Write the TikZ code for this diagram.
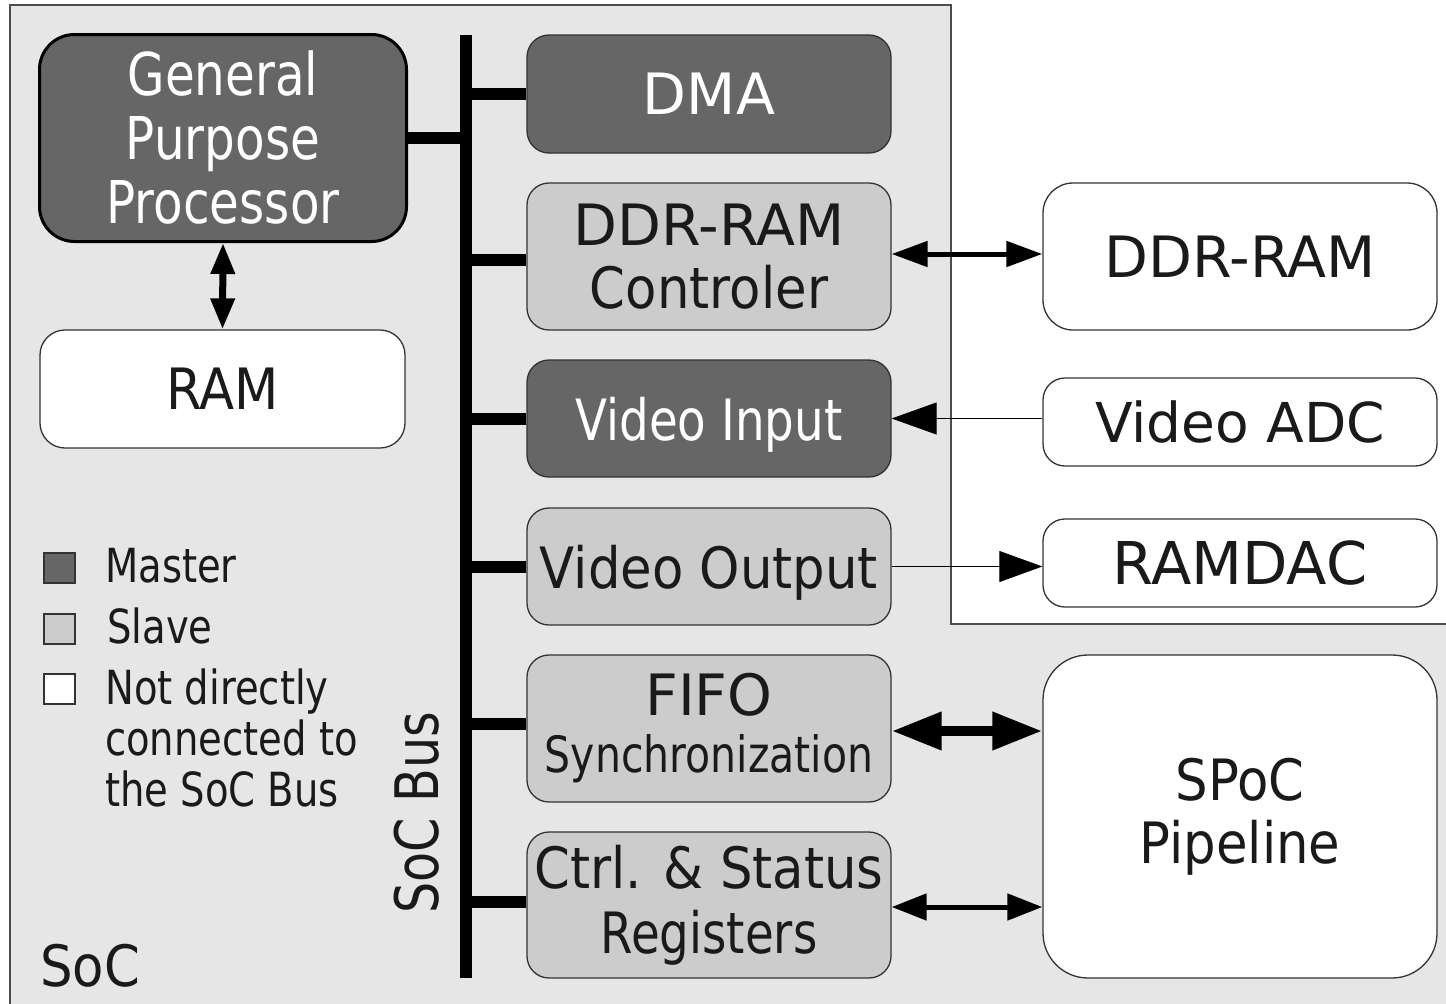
\documentclass[tikz,border=0pt]{standalone}
\usepackage{fontspec}
\setmainfont{DejaVu Sans}
\newfontfamily\fN{DejaVu Sans}
\newfontfamily\fM{DejaVu Sans}[FakeStretch=0.9]
\newfontfamily\fC{DejaVu Sans}[FakeStretch=0.82]
\usetikzlibrary{arrows.meta}
\definecolor{socgray}{HTML}{E6E6E6}
\definecolor{master}{HTML}{666666}
\definecolor{slave}{HTML}{CCCCCC}
\definecolor{txt}{HTML}{1A1A1A}
\definecolor{edge}{HTML}{333333}
\definecolor{socedge}{HTML}{4D4D4D}
\tikzset{
  box/.style={draw=edge, line width=1.3pt, rounded corners=22pt, inner sep=0pt, align=center, text=txt},
  mbox/.style={box, fill=master, text=white},
  sbox/.style={box, fill=slave},
  wbox/.style={box, fill=white},
  busline/.style={line width=12pt, line cap=butt},
  legsq/.style={draw=edge, line width=1.3pt, minimum width=31pt, minimum height=30pt, inner sep=0pt},
  legtext/.style={inner sep=0pt, text=txt, font={\fC\fontsize{47}{51}\selectfont}},
  bigfont/.style={font={\fontsize{57}{63}\selectfont}},
}
\begin{document}
\begin{tikzpicture}[x=1pt,y=-1pt]
\useasboundingbox (0,0) rectangle (1446,1004);
\fill[white] (0,0) rectangle (1446,1004);
\begin{scope}
\clip (0,0) rectangle (1446,1004);
\draw[draw=socedge, line width=1.3pt, fill=socgray] (10,1030) -- (10,5) -- (951,5) -- (951,624) -- (1470,624) -- (1470,1030) -- cycle;
\end{scope}

% left column
\node[mbox, draw=black, line width=3pt, rounded corners=35pt, minimum width=367pt, minimum height=207pt,
      font={\fC\fontsize{59}{64}\selectfont}] (gpp) at (223,138) {General\\Purpose\\Processor};
\node[wbox, rounded corners=25pt, minimum width=365pt, minimum height=118pt,
      font={\fM\fontsize{57}{63}\selectfont}] (ram) at (222.5,389) {RAM};

% bus
\coordinate (bustop) at (465.5,35);
\coordinate (busbot) at (465.5,978);

% bus devices
\node[mbox, minimum width=364pt, minimum height=118pt, font={\fN\fontsize{57}{63}\selectfont}] (dma) at (709,94) {DMA};
\node[sbox, minimum width=364pt, minimum height=147pt, bigfont] (ddrc) at (709,256.5) {\fN DDR-RAM\\\fM Controler};
\node[mbox, minimum width=364pt, minimum height=117pt, text depth=0pt, font={\fC\fontsize{57}{63}\selectfont}] (vin) at (709,418.5) {Video Input};
\node[sbox, minimum width=364pt, minimum height=117pt, text depth=0pt, font={\fM\fontsize{57}{63}\selectfont}] (vout) at (709,566.5) {Video Output};
\node[sbox, minimum width=364pt, minimum height=147pt, font={\fontsize{57}{57}\selectfont}] (fifo) at (709,728.5) {\fN FIFO\\\fC\fontsize{50}{57}\selectfont Synchronization};
\node[sbox, minimum width=364pt, minimum height=146pt, font={\fontsize{57}{65}\selectfont}] (ctrl) at (709,905) {\fM Ctrl. \& Status\\\fC Registers};

% external devices
\node[wbox, rounded corners=30pt, minimum width=394pt, minimum height=147pt, font={\fN\fontsize{57}{63}\selectfont}] (ddr) at (1240,256.5) {DDR-RAM};
\node[wbox, minimum width=394pt, minimum height=88pt, font={\fN\fontsize{55}{63}\selectfont}] (adc) at (1240,422) {Video ADC};
\node[wbox, minimum width=394pt, minimum height=88pt, font={\fN\fontsize{59}{63}\selectfont}] (ramdac) at (1240,563) {RAMDAC};
\node[wbox, rounded corners=45pt, minimum width=394pt, minimum height=323pt, font={\fM\fontsize{57}{63}\selectfont}] (spoc) at (1240,816.5) {SPoC\\Pipeline};

% bus and stubs
\draw[busline] (bustop) -- (busbot);
\draw[busline] (gpp.east) -- (gpp.east -| bustop);
\draw[busline] (dma.west) -- (dma.west -| bustop);
\draw[busline] ([yshift=-3.5pt]ddrc.west) -- ([yshift=-3.5pt]ddrc.west -| bustop);
\draw[busline] (vin.west) -- (vin.west -| bustop);
\draw[busline] (vout.west) -- (vout.west -| bustop);
\draw[busline] ([yshift=4.5pt]fifo.west) -- ([yshift=4.5pt]fifo.west -| bustop);
\draw[busline] ([yshift=3pt]ctrl.west) -- ([yshift=3pt]ctrl.west -| bustop);

% arrows
\draw[line width=7pt, {Triangle[length=31pt,width=23pt]}-{Triangle[length=31pt,width=23pt]}] (gpp.south) -- (ram.north);
\draw[line width=5pt, {Triangle[length=36pt,width=25pt]}-{Triangle[length=36pt,width=25pt]}] ([yshift=2.5pt]ddrc.east) -- ([yshift=2.5pt]ddrc.east -| ddr.west);
\draw[line width=0.9pt, -{Triangle[length=45pt,width=32pt]}] (adc.west |- vin.east) -- (vin.east);
\draw[line width=0.9pt, -{Triangle[length=43pt,width=31pt]}] (vout.east) -- (vout.east -| ramdac.west);
\draw[line width=10pt, {Triangle[length=50pt,width=36pt]}-{Triangle[length=50pt,width=36pt]}] ([yshift=-2.5pt]fifo.east) -- ([yshift=-2.5pt]fifo.east -| spoc.west);
\draw[line width=5pt, {Triangle[length=35pt,width=26pt]}-{Triangle[length=35pt,width=26pt]}] ([yshift=-2pt]ctrl.east) -- ([yshift=-2pt]ctrl.east -| spoc.west);

% legend
\node[legsq, fill=master] (lm) at (59.5,568) {};
\node[legsq, fill=slave] (ls) at (59.5,629) {};
\node[legsq, fill=white] (lw) at (59.5,689) {};
\node[legtext, anchor=base west] (tm) at (105,582) {Master};
\node[legtext, anchor=base west] (ts) at (107,643) {Slave};
\node[legtext, anchor=north west, align=left] (tw) at (105,669) {Not directly\\connected to\\the SoC Bus};

% labels
\node[inner sep=0pt, text=txt, rotate=90, anchor=base, font={\fC\fontsize{60}{63}\selectfont}] (buslabel) at (438,813) {SoC Bus};
\node[inner sep=0pt, text=txt, anchor=base west, font={\fM\fontsize{57}{63}\selectfont}] (soclabel) at (40,986) {SoC};
\end{tikzpicture}
\end{document}
